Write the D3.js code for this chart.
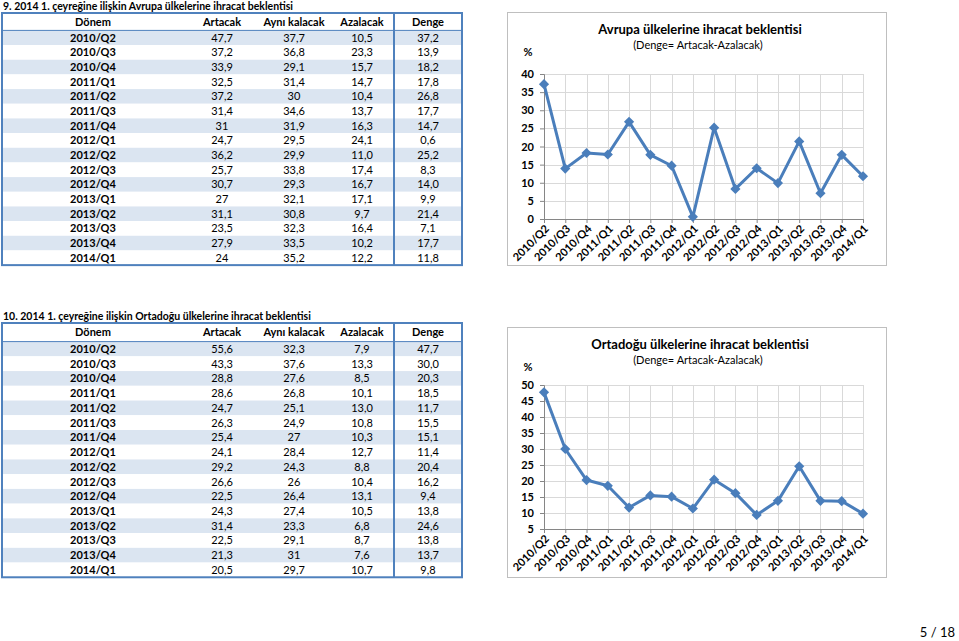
<!DOCTYPE html>
<html>
<head>
<meta charset="utf-8">
<script src="https://cdn.jsdelivr.net/npm/d3@7/dist/d3.min.js"></script>
<style>
  body { margin: 0; background: #fff; }
  svg text { font-family: Lato, "Noto Sans", sans-serif; fill: #000; }
</style>
</head>
<body>
<div id="page"></div>
<script>
// periods shared by both tables and charts
var donem = ['2010/Q2', '2010/Q3', '2010/Q4', '2011/Q1', '2011/Q2', '2011/Q3', '2011/Q4', '2012/Q1',
  '2012/Q2', '2012/Q3', '2012/Q4', '2013/Q1', '2013/Q2', '2013/Q3', '2013/Q4', '2014/Q1'];
var headers = ['Dönem', 'Artacak', 'Aynı kalacak', 'Azalacak', 'Denge'];

// Avrupa
var avrupaArtacak = ['47,7', '37,2', '33,9', '32,5', '37,2', '31,4', '31', '24,7', '36,2', '25,7', '30,7', '27', '31,1', '23,5', '27,9', '24'];
var avrupaAyni = ['37,7', '36,8', '29,1', '31,4', '30', '34,6', '31,9', '29,5', '29,9', '33,8', '29,3', '32,1', '30,8', '32,3', '33,5', '35,2'];
var avrupaAzalacak = ['10,5', '23,3', '15,7', '14,7', '10,4', '13,7', '16,3', '24,1', '11,0', '17,4', '16,7', '17,1', '9,7', '16,4', '10,2', '12,2'];
var avrupaDenge = ['37,2', '13,9', '18,2', '17,8', '26,8', '17,7', '14,7', '0,6', '25,2', '8,3', '14,0', '9,9', '21,4', '7,1', '17,7', '11,8'];

// Ortadoğu
var ortaArtacak = ['55,6', '43,3', '28,8', '28,6', '24,7', '26,3', '25,4', '24,1', '29,2', '26,6', '22,5', '24,3', '31,4', '22,5', '21,3', '20,5'];
var ortaAyni = ['32,3', '37,6', '27,6', '26,8', '25,1', '24,9', '27', '28,4', '24,3', '26', '26,4', '27,4', '23,3', '29,1', '31', '29,7'];
var ortaAzalacak = ['7,9', '13,3', '8,5', '10,1', '13,0', '10,8', '10,3', '12,7', '8,8', '10,4', '13,1', '10,5', '6,8', '8,7', '7,6', '10,7'];
var ortaDenge = ['47,7', '30,0', '20,3', '18,5', '11,7', '15,5', '15,1', '11,4', '20,4', '16,2', '9,4', '13,8', '24,6', '13,8', '13,7', '9,8'];

var avrupaTicks = [0, 5, 10, 15, 20, 25, 30, 35, 40];
var ortaTicks = [5, 10, 15, 20, 25, 30, 35, 40, 45, 50];

var blue = '#4f81bd';
var lineColor = '#4a7ebb';

var svg = d3.select('#page').append('svg')
  .attr('width', 959)
  .attr('height', 641);

function num(s) { return +s.replace(',', '.'); }

function drawTable(title, top, headTop, rowH, cols) {
  var g = svg.append('g');
  var left = 2, right = 462, sep = 394;
  var colX = [93, 222, 294, 362, 428];
  var headBottom = top + headTop;
  var bottom = headBottom + rowH * donem.length;

  g.append('text')
    .attr('x', 3).attr('y', top - 3)
    .style('font-size', '10.5px').style('font-weight', 'bold')
    .text(title);

  // striped rows
  g.selectAll('rect.row').data(donem).enter().append('rect')
    .attr('x', left).attr('width', right - left)
    .attr('y', function (d, i) { return headBottom + i * rowH; })
    .attr('height', rowH)
    .attr('fill', function (d, i) { return i % 2 === 0 ? '#dbe5f1' : '#fff'; });

  g.selectAll('text.head').data(headers).enter().append('text')
    .attr('x', function (d, i) { return colX[i]; })
    .attr('y', top + headTop / 2 + 4)
    .attr('text-anchor', 'middle')
    .style('font-size', '11px').style('font-weight', 'bold')
    .text(function (d) { return d; });

  cols.forEach(function (col, c) {
    g.selectAll(null).data(col).enter().append('text')
      .attr('x', colX[c])
      .attr('y', function (d, i) { return headBottom + i * rowH + rowH / 2 + 4; })
      .attr('text-anchor', 'middle')
      .style('font-size', '11px')
      .style('font-weight', c === 0 ? 'bold' : 'normal')
      .text(function (d) { return d; });
  });

  g.append('line')
    .attr('x1', left).attr('x2', right).attr('y1', headBottom).attr('y2', headBottom)
    .attr('stroke', blue).attr('stroke-width', 1);
  g.append('line')
    .attr('x1', sep).attr('x2', sep).attr('y1', top).attr('y2', bottom)
    .attr('stroke', blue).attr('stroke-width', 2);
  g.append('rect')
    .attr('x', left).attr('y', top).attr('width', right - left).attr('height', bottom - top)
    .attr('fill', 'none').attr('stroke', blue).attr('stroke-width', 2);
}

function drawChart(box, plot, title, values, ticks) {
  var g = svg.append('g');
  g.append('rect')
    .attr('x', box.x + 0.5).attr('y', box.y + 0.5)
    .attr('width', box.w).attr('height', box.h)
    .attr('fill', '#fff').attr('stroke', '#bfbfbf').attr('stroke-width', 1);

  g.append('text')
    .attr('x', 700).attr('y', box.y + 22)
    .attr('text-anchor', 'middle')
    .style('font-size', '13px').style('font-weight', 'bold')
    .text(title);
  g.append('text')
    .attr('x', 698).attr('y', box.y + 37)
    .attr('text-anchor', 'middle')
    .style('font-size', '11px')
    .text('(Denge= Artacak-Azalacak)');
  g.append('text')
    .attr('x', 528).attr('y', box.y + 44)
    .attr('text-anchor', 'middle')
    .style('font-size', '11px').style('font-weight', 'bold')
    .text('%');

  var x = d3.scalePoint().domain(donem).range([plot.left, plot.right]);
  var y = d3.scaleLinear().domain([ticks[0], ticks[ticks.length - 1]]).range([plot.bottom, plot.top]);

  // gridlines
  g.selectAll(null).data(ticks.slice(1)).enter().append('line')
    .attr('x1', plot.left).attr('x2', plot.right)
    .attr('y1', function (d) { return Math.round(y(d)) + 0.5; })
    .attr('y2', function (d) { return Math.round(y(d)) + 0.5; })
    .attr('stroke', '#d9d9d9');
  g.selectAll(null).data(donem.slice(1)).enter().append('line')
    .attr('x1', function (d) { return Math.round(x(d)) + 0.5; })
    .attr('x2', function (d) { return Math.round(x(d)) + 0.5; })
    .attr('y1', plot.top).attr('y2', plot.bottom)
    .attr('stroke', '#d9d9d9');

  var yAxis = g.append('g')
    .attr('transform', 'translate(' + plot.left + ',0)')
    .call(d3.axisLeft(y).tickValues(ticks).tickSize(4).tickPadding(6).tickFormat(d3.format('d')));
  var xAxis = g.append('g')
    .attr('transform', 'translate(0,' + plot.bottom + ')')
    .call(d3.axisBottom(x).tickSize(4).tickPadding(4));
  [yAxis, xAxis].forEach(function (a) {
    a.select('.domain').attr('stroke', '#868686');
    a.selectAll('.tick line').attr('stroke', '#868686');
    a.selectAll('text')
      .style('font-family', 'Lato, "Noto Sans", sans-serif')
      .style('font-size', '11px').style('font-weight', 'bold').attr('fill', '#000');
  });
  xAxis.selectAll('text')
    .attr('text-anchor', 'end')
    .attr('dy', '0.35em')
    .attr('transform', 'translate(-3,2) rotate(-45)');

  var pts = values.map(function (v, i) { return [donem[i], num(v)]; });
  g.append('path')
    .datum(pts)
    .attr('fill', 'none')
    .attr('stroke', lineColor)
    .attr('stroke-width', 3)
    .attr('stroke-linejoin', 'round')
    .attr('d', d3.line().x(function (d) { return x(d[0]); }).y(function (d) { return y(d[1]); }));
  g.selectAll(null).data(pts).enter().append('path')
    .attr('d', d3.symbol().type(d3.symbolSquare).size(52))
    .attr('transform', function (d) { return 'translate(' + x(d[0]) + ',' + y(d[1]) + ') rotate(45)'; })
    .attr('fill', lineColor);
}

drawTable('9. 2014 1. çeyreğine ilişkin Avrupa ülkelerine ihracat beklentisi', 13, 17.4, 14.67,
  [donem, avrupaArtacak, avrupaAyni, avrupaAzalacak, avrupaDenge]);
drawTable('10. 2014 1. çeyreğine ilişkin Ortadoğu ülkelerine ihracat beklentisi', 323, 18.6, 14.73,
  [donem, ortaArtacak, ortaAyni, ortaAzalacak, ortaDenge]);

drawChart({ x: 507, y: 12, w: 379, h: 253 }, { left: 544, right: 863, top: 74, bottom: 219 },
  'Avrupa ülkelerine ihracat beklentisi', avrupaDenge, avrupaTicks);
drawChart({ x: 507, y: 327, w: 379, h: 250 }, { left: 544, right: 863, top: 385, bottom: 529 },
  'Ortadoğu ülkelerine ihracat beklentisi', ortaDenge, ortaTicks);

svg.append('text')
  .attr('x', 955).attr('y', 637)
  .attr('text-anchor', 'end')
  .style('font-size', '13px')
  .text('5 / 18');
</script>
</body>
</html>
